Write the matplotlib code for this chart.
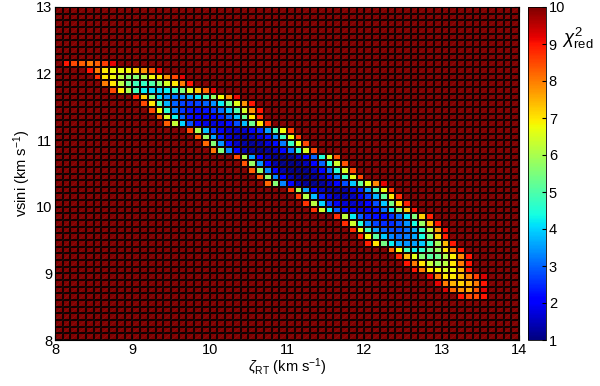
import numpy as np
import matplotlib
matplotlib.use("Agg")
import matplotlib.pyplot as plt
from matplotlib.collections import LineCollection

plt.rcParams['font.family'] = ['Liberation Sans', 'DejaVu Sans']
plt.rcParams['mathtext.fontset'] = 'custom'
plt.rcParams['mathtext.rm'] = 'Liberation Sans'
plt.rcParams['mathtext.it'] = 'Liberation Sans:italic'
plt.rcParams['mathtext.sf'] = 'Liberation Sans'

# grid of the chi^2 map (0.1 km/s steps)
zeta_edges = np.round(np.arange(8.0, 14.001, 0.1), 2)
vsini_edges = np.round(np.arange(8.0, 13.001, 0.1), 2)
saturated = 12.0  # everything outside the valley is above the colour limit

# valley read row by row, rows counted from the top (vsini 12.9-13.0) downwards
band_row = list(range(8, 44))
band_start = [1, 4, 5, 6, 7, 10, 11, 12, 13, 14, 17, 18, 19, 20, 23, 24, 25, 26,
              27, 30, 31, 32, 33, 36, 37, 38, 39, 40, 43, 44, 45, 46, 48, 49, 50, 52]
band_vals = [
    [9, 8.5, 8.3, 8, 8.3, 8.6, 9.2],
    [9, 8, 7, 6.8, 6.7, 6.8, 7.2, 7.8, 8.4, 9.2],
    [8.7, 7, 6.8, 6.2, 5.7, 5.6, 6, 6.8, 7, 7.8, 8.5, 9.2],
    [8, 7, 6.2, 5.3, 4.8, 4.7, 5, 5.6, 6.5, 7, 8, 9],
    [8.5, 7, 6, 4.8, 4.2, 4, 4, 4.2, 4.7, 5.5, 6.5, 7.3, 8.2, 9.2],
    [8.8, 7.2, 5.5, 4, 3.4, 3.2, 3.3, 3.6, 4.1, 4.9, 5.8, 6.8, 7.9, 9.1],
    [8.5, 7, 5, 3.7, 3, 2.7, 2.6, 2.7, 3, 3.4, 4.2, 5.3, 6.6, 7.8, 9],
    [8.5, 6.8, 4.6, 3.3, 2.6, 2.3, 2.2, 2.3, 2.6, 3.1, 3.9, 5, 6.5, 7.8, 9],
    [8.3, 6.5, 4.3, 3, 2.3, 2, 1.9, 2, 2.4, 3, 3.9, 5.3, 7, 8.7],
    [8.3, 6.3, 4, 2.8, 2.1, 1.8, 1.7, 1.8, 2.2, 2.8, 3.8, 5.3, 7, 8.7],
    [8.5, 6, 3.8, 2.6, 1.9, 1.6, 1.5, 1.6, 1.9, 2.5, 3.5, 5, 6.8, 8.6],
    [8.3, 5.8, 3.6, 2.4, 1.7, 1.4, 1.3, 1.4, 1.7, 2.3, 3.3, 4.8, 6.7, 8.6],
    [8.2, 5.6, 3.4, 2.2, 1.5, 1.25, 1.15, 1.25, 1.6, 2.2, 3.2, 4.7, 6.6, 8.5],
    [8.1, 5.5, 3.3, 2.1, 1.4, 1.15, 1.05, 1.15, 1.5, 2.1, 3.1, 4.6, 6.5, 8.5],
    [8.5, 6, 3.5, 2.1, 1.4, 1.1, 1.0, 1.1, 1.4, 2, 3, 4.5, 6.4, 8.4],
    [8.4, 5.8, 3.4, 2, 1.3, 1.05, 1.0, 1.1, 1.4, 2, 3, 4.5, 6.4, 8.4],
    [8.3, 5.7, 3.3, 2, 1.3, 1.05, 1.0, 1.1, 1.45, 2.1, 3.1, 4.6, 6.5, 8.5],
    [8.3, 5.7, 3.3, 2, 1.35, 1.1, 1.05, 1.15, 1.5, 2.2, 3.2, 4.7, 6.6, 8.5],
    [8.2, 5.6, 3.3, 2, 1.4, 1.15, 1.1, 1.2, 1.5, 2, 2.8, 3.9, 5.2, 6.6, 7.9, 9.2],
    [8.6, 6, 3.6, 2.2, 1.5, 1.25, 1.2, 1.3, 1.7, 2.4, 3.5, 5, 6.8, 8.7],
    [8.6, 6.1, 3.8, 2.4, 1.7, 1.4, 1.35, 1.45, 1.85, 2.6, 3.7, 5.2, 7, 8.8],
    [8.7, 6.2, 4, 2.6, 1.9, 1.6, 1.55, 1.65, 2.05, 2.8, 3.9, 5.4, 7.1, 8.9],
    [8.7, 6.4, 4.2, 2.9, 2.2, 1.9, 1.8, 1.9, 2.3, 3.1, 4.2, 5.7, 7.3, 9],
    [8.8, 6.2, 4.2, 3, 2.4, 2.2, 2.2, 2.5, 3.1, 4.1, 5.5, 7.2, 8.9],
    [8.8, 6.4, 4.5, 3.3, 2.7, 2.5, 2.5, 2.8, 3.4, 4.4, 5.8, 7.4, 9],
    [8.8, 6.6, 4.8, 3.6, 3, 2.8, 2.8, 3.1, 3.7, 4.7, 6.1, 7.7, 9.1],
    [8.8, 6.8, 5.1, 3.9, 3.3, 3.1, 3.2, 3.6, 4.4, 5.6, 7.2, 8.9],
    [8.9, 7, 5.4, 4.2, 3.6, 3.4, 3.5, 3.9, 4.7, 5.9, 7.4, 9],
    [8.2, 6.8, 4.8, 4.2, 4.6, 5.3, 5.8, 7, 8, 9],
    [8.8, 7.4, 6.6, 5.5, 5.1, 5.3, 6, 6.9, 7.9, 9],
    [9, 8, 7, 6.3, 5.8, 6.2, 7, 8, 9],
    [9, 8, 7, 6.8, 6.5, 6.8, 7.5, 9],
    [9.2, 8, 7, 7, 7.4, 8, 8.6, 9.3],
    [9.2, 8, 7.5, 7.2, 7.5, 8, 9],
    [9.3, 8.2, 7.8, 7.6, 8.4, 9.2],
    [9, 8.5, 8.5, 9],
]

n_y = len(vsini_edges) - 1
chi2 = np.full((n_y, len(zeta_edges) - 1), saturated)
for r, s, v in zip(band_row, band_start, band_vals):
    chi2[n_y - 1 - r, s:s + len(v)] = v

fig = plt.figure(figsize=(6.0, 3.86), dpi=100)
ax = fig.add_axes([55 / 600, 46 / 386, 464 / 600, 333 / 386])
cax = fig.add_axes([528 / 600, 46 / 386, 18 / 600, 333 / 386])

mesh = ax.pcolormesh(zeta_edges, vsini_edges, chi2, cmap='jet', vmin=1, vmax=10,
                     edgecolors='#140000', linewidth=0.3)

# faint diagonal seam inside each patch (as in the original rendering)
X, Y = np.meshgrid(zeta_edges, vsini_edges)
segs = np.stack([np.stack([X[:-1, :-1], Y[:-1, :-1]], -1),
                 np.stack([X[1:, 1:], Y[1:, 1:]], -1)], axis=2).reshape(-1, 2, 2)
ax.add_collection(LineCollection(segs, colors='white', linewidths=0.5, alpha=0.08))

ax.set_xlim(8, 14)
ax.set_ylim(8, 13)
ax.set_xticks(range(8, 15))
ax.set_yticks(range(8, 14))
ax.tick_params(direction='in', labelsize=10.5, top=True, right=True, pad=2)
ax.set_xlabel(r'$\zeta_{\rm RT}$ (km s$^{-1}$)', fontsize=10.5, labelpad=0)
ax.set_ylabel(r'vsini (km s$^{-1}$)', fontsize=10.5, labelpad=2)

cb = fig.colorbar(mesh, cax=cax, ticks=range(1, 11))
cb.outline.set_linewidth(0.6)
cax.tick_params(direction='in', labelsize=10.5, pad=2, length=3)
fig.text(562 / 600, 348 / 386, r'$\chi^2_{\rm red}$', fontsize=13.5, ha='left', va='center')

fig.savefig('out.png', dpi=100)
